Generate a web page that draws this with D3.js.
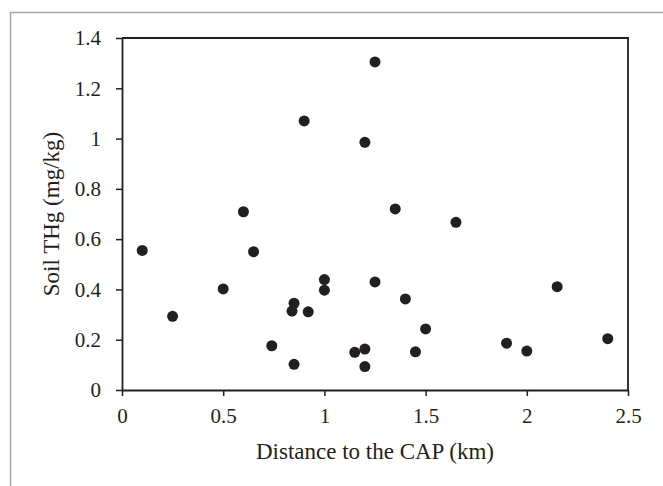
<!DOCTYPE html>
<html><head><meta charset="utf-8">
<script src="https://cdn.jsdelivr.net/npm/d3@7"></script>
<style>body{margin:0;background:#fff}svg{display:block}</style>
</head><body>
<svg id="c" width="663" height="486"></svg>
<script>
const distance = [1.25,0.9,1.2,1.35,0.6,0.1,0.65,0.5,0.25,1.0,1.0,1.25,0.85,0.84,0.92,0.74,0.85,1.15,1.2,1.2,1.4,1.5,1.45,1.9,2.0,2.15,2.4,1.65];
const thg =      [1.305,1.07,0.985,0.72,0.709,0.555,0.55,0.402,0.293,0.439,0.397,0.43,0.345,0.314,0.311,0.176,0.102,0.15,0.163,0.093,0.362,0.243,0.152,0.186,0.155,0.411,0.204,0.667];
const xTicks = [0,0.5,1,1.5,2,2.5];
const yTicks = [0,0.2,0.4,0.6,0.8,1,1.2,1.4];
const xTitle = "Distance to the CAP (km)";
const yTitle = "Soil THg (mg/kg)";

const svg = d3.select("#c");
const L=122, R=628, T=38, B=390;
const x = d3.scaleLinear().domain([0,2.5]).range([L,R]);
const y = d3.scaleLinear().domain([0,1.4]).range([B,T]);
const font = "'Liberation Serif','Times New Roman',serif";
const ink = "#231f20";

// outer frame
svg.append("path").attr("d","M10.5,486 V12.5 H663").attr("fill","none").attr("stroke","#a6a6a6").attr("stroke-width",1.5);

// plot box top/right
svg.append("path").attr("d",`M${L},${T} H${R} V${B}`).attr("fill","none").attr("stroke",ink).attr("stroke-width",1.8);

const fmt = d => String(d);
const gx = svg.append("g").attr("transform",`translate(0,${B})`)
  .call(d3.axisBottom(x).tickValues(xTicks).tickFormat(fmt).tickSizeInner(6).tickSizeOuter(0).tickPadding(12));
const gy = svg.append("g").attr("transform",`translate(${L},0)`)
  .call(d3.axisLeft(y).tickValues(yTicks).tickFormat(fmt).tickSizeInner(6).tickSizeOuter(0).tickPadding(15));
[gx,gy].forEach(g=>{
  g.selectAll("path.domain").attr("stroke",ink).attr("stroke-width",1.8);
  g.selectAll("line").attr("stroke",ink).attr("stroke-width",1.5);
  g.selectAll("text").attr("font-family",font).attr("font-size",21).attr("fill",ink);
});

svg.append("g").selectAll("circle").data(distance.map((d,i)=>[d,thg[i]])).join("circle")
  .attr("cx",d=>x(d[0])).attr("cy",d=>y(d[1])).attr("r",5.5).attr("fill",ink);

svg.append("text").attr("x",(L+R)/2).attr("y",459).attr("text-anchor","middle")
  .attr("font-family",font).attr("font-size",23).attr("fill",ink).text(xTitle);
svg.append("text").attr("transform",`translate(59,${(T+B)/2}) rotate(-90)`).attr("text-anchor","middle")
  .attr("font-family",font).attr("font-size",23).attr("fill",ink).text(yTitle);
</script>
</body></html>
